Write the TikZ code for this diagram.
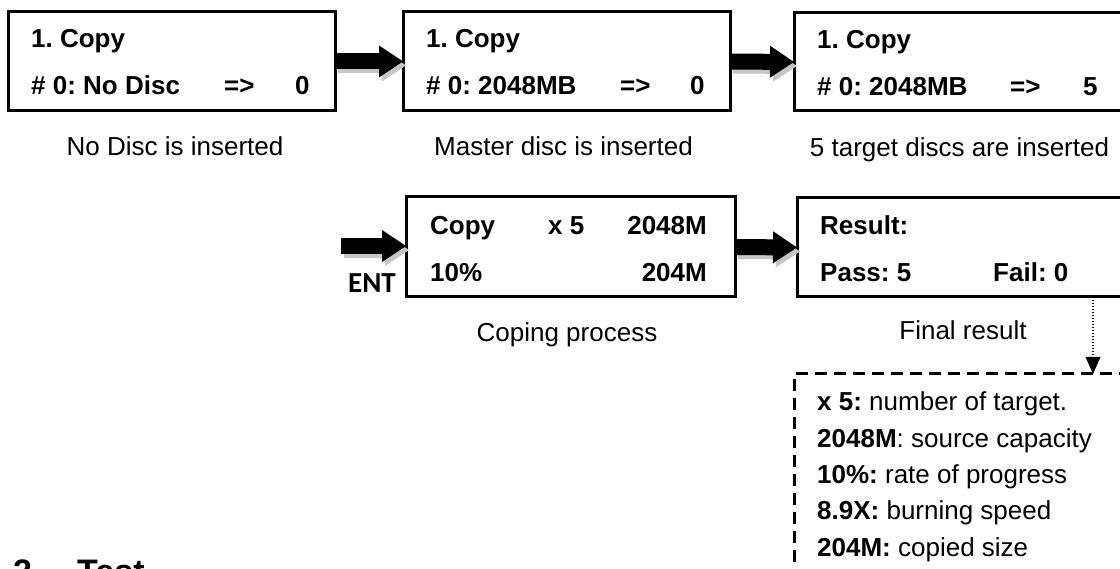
\documentclass[tikz,border=0pt]{standalone}
\usepackage{fontspec}
\setmainfont{Liberation Sans}
\newfontfamily\entfont{Carlito}
\usetikzlibrary{arrows.meta}
\frenchspacing
\newcommand\blockarrow[2]{%
  \draw[blk, draw=gray!45, transform canvas={xshift=3pt,yshift=-4pt}] (#1) -- (#2);
  \draw[blk] (#1) -- (#2);}
\begin{document}
\begin{tikzpicture}[x=1pt,y=-1pt,
  lcd/.style={draw, line width=3pt, rectangle, inner sep=0pt, outer sep=0pt},
  bt/.style={anchor=base west, inner sep=0pt, font=\frenchspacing\fontsize{26}{30}\selectfont\bfseries},
  bte/.style={bt, anchor=base east},
  captext/.style={anchor=base, inner sep=0pt, font=\frenchspacing\fontsize{26}{30}\selectfont},
  nt/.style={anchor=base west, inner sep=0pt, font=\frenchspacing\fontsize{26}{30}\selectfont},
  blk/.style={line width=16pt, -{Triangle[length=24pt,width=32pt,line width=0pt]}},
  dbox/.style={draw, line width=3pt, dash pattern=on 12pt off 7pt, rectangle, inner sep=0pt, outer sep=0pt}
]
\useasboundingbox (0,0) rectangle (1120,569);
\clip (0,0) rectangle (1120,569);

% LCD boxes
\node[lcd, minimum width=327pt, minimum height=99pt] (b1) at (171.5,61.5) {};
\node[lcd, minimum width=327pt, minimum height=99pt] (b2) at (566.5,61.5) {};
\node[lcd, minimum width=346pt, minimum height=98pt] (b3) at (967,62) {};
\node[lcd, minimum width=329pt, minimum height=100pt] (b4) at (570.5,247) {};
\node[lcd, minimum width=343pt, minimum height=99pt] (b5) at (968.5,247.5) {};

% box texts
\node[bt] (t11) at (31,48) {1. Copy};
\node[bt] (t12) at (31,95) {\# 0: No Disc};
\node[bt] (t13) at (224,95) {=>};
\node[bt] (t14) at (295,95) {0};

\node[bt] (t21) at (426,48) {1. Copy};
\node[bt] (t22) at (426,95) {\# 0: 2048MB};
\node[bt] (t23) at (620,95) {=>};
\node[bt] (t24) at (690,95) {0};

\node[bt] (t31) at (817,49) {1. Copy};
\node[bt] (t32) at (817,96) {\# 0: 2048MB};
\node[bt] (t33) at (1010,96) {=>};
\node[bt] (t34) at (1083,96) {5};

\node[bt] (t41) at (430,235) {Copy};
\node[bt] (t42) at (548,235) {x 5};
\node[bte] (t43) at (707,235) {2048M};
\node[bt] (t44) at (430,282) {10\%};
\node[bte] (t45) at (707,282) {204M};

\node[bt] (t51) at (820,235) {Result:};
\node[bt] (t52) at (820,282) {Pass: 5};
\node[bt] (t53) at (993,282) {Fail: 0};

% captions
\node[captext] (c1) at (175,156) {No Disc is inserted};
\node[captext] (c2) at (563.5,156) {Master disc is inserted};
\node[captext] (c3) at (959.5,157) {5 target discs are inserted};
\node[captext] (c4) at (567,342) {Coping process};
\node[captext] (c5) at (963,340) {Final result};

% ENT
\node[anchor=base, inner sep=0pt, font=\entfont\fontsize{29}{32}\selectfont\bfseries] (ent) at (372,293) {ENT};
\coordinate (e0) at (341,246);

% block arrows
\blockarrow{b1.east}{b2.west}
\blockarrow{b2.east}{b3.west}
\blockarrow{e0}{e0 -| b4.west}
\blockarrow{b4.east}{b5.west}

% dashed legend box
\node[dbox, minimum width=327pt, minimum height=196pt] (leg) at (957.5,472) {};
\node[nt] (l1) at (817,410) {\textbf{x 5:} number of target.};
\node[nt] (l2) at (817,447) {\textbf{2048M}: source capacity};
\node[nt] (l3) at (817,483) {\textbf{10\%:} rate of progress};
\node[nt] (l4) at (817,519) {\textbf{8.9X:} burning speed};
\node[nt] (l5) at (817,556) {\textbf{204M:} copied size};

% dotted arrow
\coordinate (d0) at (1093,297);
\draw[line width=1.5pt, dash pattern=on 1.5pt off 1.5pt, -{Triangle[length=17pt,width=15pt,line width=0pt]}] (d0) -- (d0 |- leg.north);

% heading (cut off at the lower edge, as in the reference)
\node[anchor=base west, inner sep=0pt, font=\fontsize{34}{38}\selectfont\bfseries] (h1) at (13,583) {2.};
\node[anchor=base west, inner sep=0pt, font=\fontsize{34}{38}\selectfont\bfseries] (h2) at (77,583) {Test};
\end{tikzpicture}
\end{document}
